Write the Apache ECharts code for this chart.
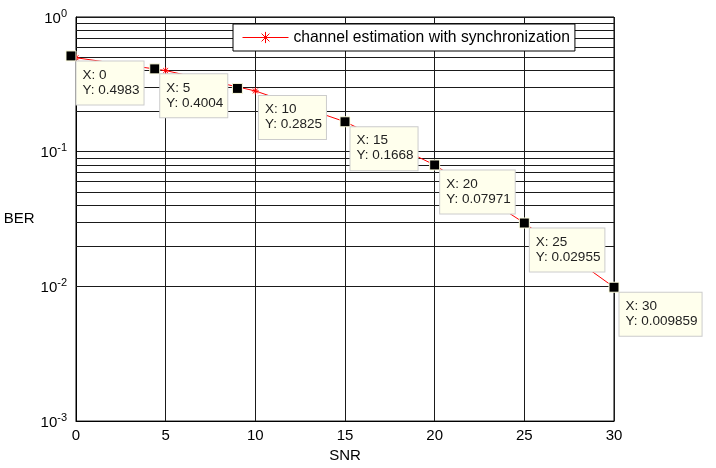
<!DOCTYPE html>
<html>
<head>
<meta charset="utf-8">
<script src="https://cdn.jsdelivr.net/npm/echarts@6/dist/echarts.min.js"></script>
<style>html,body{margin:0;padding:0;background:#fff;}#c{width:716px;height:468px;}</style>
</head>
<body>
<div id="c"></div>
<script>
// ---- data ----
const snr = [0, 5, 10, 15, 20, 25, 30];
const ber = [0.4983, 0.4004, 0.2825, 0.1668, 0.07971, 0.02955, 0.009859];
// data tip marker locations (as seen in the figure)
const tipX = [-0.28, 4.39, 9.0, 15, 20, 25, 30];
const tipY = [0.514, 0.412, 0.295, 0.1668, 0.07971, 0.02955, 0.009859];
const xTicks = [0, 5, 10, 15, 20, 25, 30];
const yDecades = [-3, -2, -1, 0];
const seriesName = 'channel estimation with synchronization';
const xLabel = 'SNR';
const yLabel = 'BER';

const FONT = 'Liberation Sans, Arial, Helvetica, sans-serif';

// minor grid values 2..9 per decade
const minorVals = [];
for (let d = yDecades[0]; d < yDecades[yDecades.length - 1]; d++) {
  for (let k = 2; k <= 9; k++) minorVals.push(k * Math.pow(10, d));
}

const asterisk = 'path://M5,0L5,10M0,5L10,5M1.5,1.5L8.5,8.5M8.5,1.5L1.5,8.5';

const tipData = tipX.map((x, i) => {
  const d = { value: [x, tipY[i]], tipIndex: i };
  if (i === 2) d.label = { position: [27, 13] };
  return d;
});

const chart = echarts.init(document.getElementById('c'), null, { renderer: 'canvas' });
chart.setOption({
  animation: false,
  backgroundColor: '#fff',
  textStyle: { fontFamily: FONT },
  grid: { left: 76, right: 102, top: 17, bottom: 46, show: true, borderColor: '#000', borderWidth: 1, backgroundColor: '#fff' },
  legend: {
    z: 10, zlevel: 1,
    data: [seriesName],
    left: 233, top: 24,
    backgroundColor: '#fff', borderColor: '#000', borderWidth: 1,
    padding: [5, 5, 5, 9],
    itemWidth: 46, itemHeight: 14,
    itemStyle: { color: 'rgba(0,0,0,0)', borderColor: '#ff0000', borderWidth: 1 },
    lineStyle: { color: '#ff0000', width: 1, opacity: 1, type: 'solid' },
    textStyle: { fontSize: 15.7, color: '#000', fontFamily: FONT, lineHeight: 17 }
  },
  xAxis: {
    type: 'value', min: xTicks[0], max: xTicks[xTicks.length - 1], interval: 5,
    name: xLabel, nameLocation: 'middle', nameGap: 23,
    nameTextStyle: { fontSize: 15, color: '#000', fontFamily: FONT },
    axisLine: { show: true, lineStyle: { color: '#000', width: 1 } },
    axisTick: { show: false },
    axisLabel: { fontSize: 15, color: '#000', margin: 7, fontFamily: FONT },
    splitLine: { show: true, lineStyle: { color: '#1a1a1a', width: 1 } }
  },
  yAxis: {
    type: 'log', logBase: 10,
    min: Math.pow(10, yDecades[0]), max: Math.pow(10, yDecades[yDecades.length - 1]),
    name: yLabel, nameLocation: 'middle', nameRotate: 0, nameGap: 29,
    nameTextStyle: { fontSize: 15, color: '#000', fontFamily: FONT, padding: [0, 0, 29, 0] },
    axisLine: { show: true, lineStyle: { color: '#000', width: 1 } },
    axisTick: { show: false },
    axisLabel: {
      margin: 9,
      formatter: function (v) {
        const e = Math.round(Math.log10(v));
        return '{b|10}{e|' + e + '}';
      },
      rich: {
        b: { fontSize: 15, color: '#000', fontFamily: FONT, lineHeight: 18, verticalAlign: 'bottom' },
        e: { fontSize: 11, color: '#000', fontFamily: FONT, lineHeight: 18, verticalAlign: 'top' }
      }
    },
    splitLine: { show: true, lineStyle: { color: '#1a1a1a', width: 1 } }
  },
  series: [
    {
      name: 'minorgrid', type: 'line', data: [], z: 1, silent: true,
      markLine: {
        z: 1,
        silent: true, symbol: ['none', 'none'], animation: false,
        label: { show: false },
        lineStyle: { color: '#1a1a1a', type: 'solid', width: 1 },
        emphasis: { disabled: true },
        data: minorVals.map(v => ({ yAxis: v }))
      }
    },
    {
      name: seriesName, type: 'line', z: 3, color: '#ff0000',
      data: snr.map((x, i) => [x, ber[i]]),
      lineStyle: { color: '#ff0000', width: 1 },
      itemStyle: { color: 'rgba(0,0,0,0)', borderColor: '#ff0000', borderWidth: 1 },
      symbol: asterisk, symbolSize: 7, showAllSymbol: true
    },
    {
      name: 'tips', type: 'scatter', z: 5, clip: false,
      data: tipData,
      symbol: 'rect', symbolSize: 10,
      itemStyle: { color: '#000', borderColor: '#ffffe0', borderWidth: 1, opacity: 1 },
      label: {
        show: true, position: [11, 11],
        formatter: function (p) {
          const i = p.data.tipIndex;
          return 'X: ' + snr[i] + '\nY: ' + ber[i];
        },
        fontSize: 13.5, lineHeight: 15, color: '#222', fontFamily: FONT,
        backgroundColor: '#ffffed', borderColor: '#cccccc', borderWidth: 1,
        padding: [6, 4, 7, 6], align: 'left', verticalAlign: 'top'
      }
    }
  ]
});
</script>
</body>
</html>
